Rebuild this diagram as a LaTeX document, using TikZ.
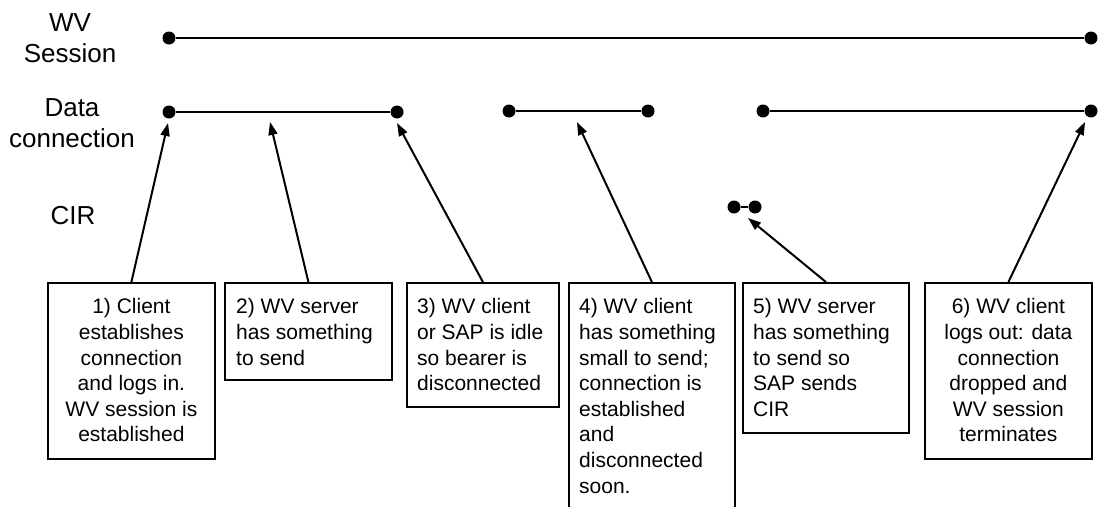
\documentclass[tikz,border=0pt]{standalone}
\usepackage{fontspec}
\setmainfont{Liberation Sans}
\usetikzlibrary{arrows.meta,calc}
\begin{document}
\begin{tikzpicture}[x=1pt,y=-1pt,
  box/.style={draw, line width=1.8pt, inner sep=0pt, anchor=north west},
  txt/.style={inner sep=0pt, font=\fontsize{21}{25.6}\selectfont},
  lbl/.style={align=center, inner sep=0pt, font=\fontsize{26}{31}\selectfont},
  dot/.style={circle, fill=black, inner sep=0pt, minimum size=13pt},
  seg/.style={line width=2pt},
  arr/.style={line width=2pt, -{Triangle[length=13pt,width=9pt]}}]
\useasboundingbox (0,0) rectangle (1103,506);
% row labels
\node[lbl, anchor=north] (lws) at (70,13) {WV\\Session};
\node[lbl, anchor=north] (ldc) at (72,98) {Data\\connection};
\node[lbl] (lcir) at (73,216) {CIR};
% WV session
\node[dot] (s1) at (169,38) {};
\node[dot] (s2) at (1091,38) {};
\draw[seg] (s1) -- (s2);
% data connection
\node[dot] (d1) at (169,112) {};
\node[dot] (d2) at (397,112) {};
\node[dot] (d3) at (509,111) {};
\node[dot] (d4) at (648,111) {};
\node[dot] (d5) at (763,111) {};
\node[dot] (d6) at (1091,111) {};
\draw[seg] (d1) -- (d2);
\draw[seg] (d3) -- (d4);
\draw[seg] (d5) -- (d6);
% CIR
\node[dot] (c1) at (734,207) {};
\node[dot] (c2) at (755,207) {};
\draw[seg] (c1) -- (c2);
% boxes
\node[box, minimum width=167pt, minimum height=176pt] (b1) at (47,282) {};
\node[box, minimum width=167pt, minimum height=97pt] (b2) at (224,282) {};
\node[box, minimum width=152pt, minimum height=124pt] (b3) at (406,282) {};
\node[box, minimum width=166pt, minimum height=240pt] (b4) at (568,282) {};
\node[box, minimum width=166pt, minimum height=150pt] (b5) at (742,282) {};
\node[box, minimum width=167pt, minimum height=176pt] (b6) at (924,282) {};
% texts
\node[txt, align=center, anchor=north] (t1) at ($(b1.north)+(0,16.5)$)
  {1) Client\\establishes\\connection\\and logs in.\\WV session is\\established};
\node[txt, align=left, anchor=north west] (t2) at ($(b2.north west)+(12,16.5)$)
  {2) WV server\\has something\\to send};
\node[txt, align=left, anchor=north west] (t3) at ($(b3.north west)+(11,16.5)$)
  {3) WV client\\or SAP is idle\\so bearer is\\disconnected};
\node[txt, align=left, anchor=north west] (t4) at ($(b4.north west)+(11,16.5)$)
  {4) WV client\\has something\\small to send;\\connection is\\established\\and\\disconnected\\soon.};
\node[txt, align=left, anchor=north west] (t5) at ($(b5.north west)+(11,16.5)$)
  {5) WV server\\has something\\to send so\\SAP sends\\CIR};
\node[txt, align=center, anchor=north] (t6) at ($(b6.north)+(0,16.5)$)
  {6) WV client\\logs out: data\\connection\\dropped and\\WV session\\terminates};
% arrow tips
\coordinate (p1) at (168,123);
\coordinate (p2) at (270,122);
\coordinate (p3) at (397,123);
\coordinate (p4) at (577,122);
\coordinate (p5) at (748,218);
\coordinate (p6) at (1085,122);
\draw[arr] (b1.north) -- (p1);
\draw[arr] (b2.north) -- (p2);
\draw[arr] (b3.north) -- (p3);
\draw[arr] (b4.north) -- (p4);
\draw[arr] (b5.north) -- (p5);
\draw[arr] (b6.north) -- (p6);
\end{tikzpicture}
\end{document}
